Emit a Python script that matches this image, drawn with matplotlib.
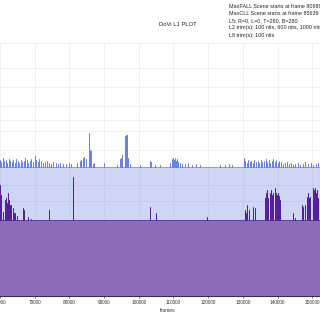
import matplotlib
matplotlib.use("Agg")
import matplotlib.pyplot as plt
import numpy as np

# DoVi L1 metadata (12-bit PQ codes)
max_base = 2085
max_frames = [60000, 60290, 60860, 61150, 61730, 62020, 62590, 62880, 63460, 63750,
              64320, 64610, 65190, 65480, 66050, 66340, 66920, 67200, 67780, 68070,
              68650, 68930, 69510, 70090, 70380, 70950, 71240, 71820, 72390, 72970,
              73550, 74120, 74700, 75270, 76140, 76720, 77290, 78160, 79020, 79890,
              80460,
              82190, 83060, 83340, 83920, 84210, 84790, 85639, 85930, 86220, 86800,
              87090, 89970, 93720, 94580, 94870, 95160, 96030, 96310, 96600, 96890,
              97470,
              100350, 103230, 103520, 104670, 106110, 108990, 109570, 109860, 110150,
              110440, 110720, 111010, 111300, 111880, 112450, 113320, 114180, 115330,
              116490, 117640, 123400, 124850, 126000, 126860,
              130320, 130610, 131190, 131470, 132050, 132340, 132910, 133200, 133780,
              134360, 134640, 135220, 135510, 136080, 136660, 136950, 137530, 137810,
              138390, 138680, 139260, 139540, 140120, 140410, 140980, 141560, 142140,
              142710, 143290, 143870, 144440, 145020, 145880, 146460, 147320, 147900,
              148770, 149630, 150210, 151070, 151650]
max_pq = [2201, 2168, 2233, 2185, 2201, 2152, 2217, 2185, 2168, 2201,
          2152, 2217, 2185, 2152, 2201, 2168, 2185, 2233, 2201, 2152,
          2185, 2217, 2168, 2266, 2201, 2168, 2217, 2185, 2152, 2168,
          2185, 2152, 2136, 2168, 2152, 2136, 2152, 2136, 2136, 2152,
          2136,
          2152, 2185, 2201, 2233, 2250, 2217, 2639, 2363, 2347, 2136,
          2152, 2152, 2120, 2217, 2233, 2282, 2590, 2607, 2607, 2233,
          2136,
          2120, 2185, 2168, 2120, 2120, 2152, 2217, 2233, 2201, 2233,
          2185, 2217, 2168, 2152, 2136, 2136, 2152, 2120, 2136, 2120,
          2120, 2120, 2136, 2120,
          2233, 2185, 2152, 2201, 2168, 2185, 2152, 2201, 2168, 2185,
          2152, 2201, 2168, 2185, 2217, 2168, 2201, 2152, 2185, 2217,
          2168, 2201, 2152, 2185, 2168, 2136, 2152, 2168, 2136, 2152,
          2120, 2136, 2152, 2120, 2136, 2168, 2136, 2152, 2120, 2136,
          2152]

avg_base = 1228
avg_frames = [60000, 60290, 60860, 61440, 61730, 62020, 62310, 62590, 62880, 63170,
              63750, 64030, 64320, 64900, 66630, 66920, 68070, 68930, 74120, 80989,
              103230, 104960, 119660,
              130610, 130900, 131190, 131760, 132910, 133490, 136370, 136660, 136950,
              137240, 137810, 138100, 138390, 138680, 139260, 139540, 139830, 140120,
              140410, 140700, 144440, 145020, 147040, 147320, 147900, 148480, 148770,
              149050, 149340, 150210, 150490, 150780, 151070, 151360, 151650]
avg_pq = [1796, 1633, 1358, 1552, 1585, 1504, 1666, 1552, 1471, 1471,
          1423, 1341, 1341, 1293, 1423, 1390, 1277, 1244, 1390, 1925,
          1439, 1341, 1277,
          1390, 1341, 1471, 1390, 1439, 1423, 1585, 1666, 1714,
          1585, 1666, 1714, 1633, 1666, 1747, 1666, 1633, 1666,
          1617, 1552, 1341, 1260, 1471, 1439, 1471, 1601, 1666,
          1585, 1601, 1747, 1714, 1747, 1666, 1714, 1585]

info_lines = ["MaxFALL Scene starts at frame 80989",
              "MaxCLL Scene starts at frame 85639",
              "L5: R=0, L=0, T=280, B=280",
              "L2 trim(s): 100 nits, 600 nits, 1000 nits",
              "L8 trim(s): 100 nits"]
grid_nits = [0.1, 0.5, 1, 2.5, 5, 10, 25, 50, 100, 200, 400, 600, 1000, 2000, 4000, 10000]
x_ticks = [60000, 70000, 80000, 90000, 100000, 110000, 120000, 130000, 140000, 150000]

X0, X1 = 60000, 152220


def nits_to_code(n):
    m1, m2 = 0.1593017578125, 78.84375
    c1, c2, c3 = 0.8359375, 18.8515625, 18.6875
    y = (np.asarray(n, dtype=float) / 10000.0) ** m1
    return ((c1 + c2 * y) / (1 + c3 * y)) ** m2 * 4095


def to_steps(frames, vals, base, w=70):
    xs, ys = [X0 - 1000], [base]
    for f, v in zip(frames, vals):
        xs += [f - w, f - w, f + w, f + w]
        ys += [base, v, v, base]
    xs.append(X1 + 1000)
    ys.append(base)
    return np.array(xs), np.array(ys)


plt.rcParams['font.family'] = ['Liberation Sans', 'DejaVu Sans']
fig = plt.figure(figsize=(3.2, 3.2), dpi=100)
ax = fig.add_axes([0, 0.0759, 1, 0.7888])

mx, my = to_steps(max_frames, max_pq, max_base)
px, py = to_steps(avg_frames, avg_pq, avg_base)
ax.fill_between(mx, 0, my, color='#cfd6f5', lw=0, zorder=1)
ax.plot(mx, my, color='#6a82e6', lw=0.45, zorder=2)
ax.fill_between(px, 0, py, color='#8b6bba', lw=0, zorder=3)
ax.plot(px, py, color='#55209a', lw=0.45, zorder=4)

ax.set_xlim(X0, X1)
ax.set_ylim(0, 4095)
ax.set_xticks(x_ticks)
ax.set_xticklabels([str(t) for t in x_ticks])
ax.set_yticks(nits_to_code(grid_nits))
ax.set_yticklabels([])
ax.tick_params(axis='x', labelsize=3.4, colors='#333333', length=1.5, width=0.5, pad=1.5)
ax.tick_params(axis='y', length=0)
ax.grid(True, color='#808080', alpha=0.13, lw=0.6, zorder=5)
ax.set_axisbelow(False)
for s in ['top', 'right', 'left']:
    ax.spines[s].set_visible(False)
ax.spines['bottom'].set_color('#333333')
ax.spines['bottom'].set_linewidth(0.8)

ax.set_xlabel("frames", fontsize=3.6, color='#333333')
ax.xaxis.set_label_coords(0.525, -0.048)

fig.text(0.555, 0.925, "DoVi L1 PLOT", fontsize=4.2, color='#222222', ha='center', va='center')
for i, line in enumerate(info_lines):
    fig.text(0.716, 0.980 - i * 0.0225, line, fontsize=3.85, color='#222222', ha='left', va='center')

fig.savefig("out.png", dpi=100)
